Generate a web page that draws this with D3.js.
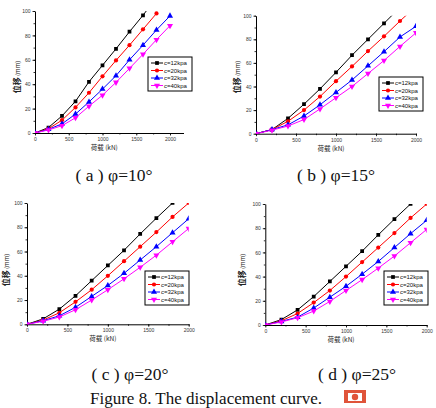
<!DOCTYPE html>
<html lang="en">
<head>
<meta charset="UTF-8">
<title>Displacement curve</title>
<script src="https://d3js.org/d3.v7.min.js"></script>
<style>
  body { margin: 0; background: #fff; }
  svg { display: block; }
  .tick text { font-family: Arial, "Liberation Sans", sans-serif; fill: #333; }
  .cap { font-family: "Liberation Serif", "Times New Roman", serif; fill: #111; }
</style>
</head>
<body>
<svg id="canvas"></svg>
<script>
let width = 436
let height = 408

// load (kN) where the points sit
let loads = [0, 200, 400, 600, 800, 1000, 1200, 1400, 1600, 1800, 2000]
let seriesNames = ["c=12kpa", "c=20kpa", "c=32kpa", "c=40kpa"]
let seriesColors = ["#000000", "#ff0000", "#0000ff", "#ff00ff"]
let xTicks = [0, 500, 1000, 1500, 2000]
let yTicks = [0, 20, 40, 60, 80, 100]
let captions = ["( a ) φ=10°", "( b ) φ=15°", "( c ) φ=20°", "( d ) φ=25°"]
let figTitle = "Figure 8. The displacement curve."

// displacement (mm), one list per c value, per panel
let dispA12 = [0, 4.5, 14, 26, 42, 55.5, 69, 83, 96.5, 111]
let dispA20 = [0, 3.5, 10.5, 21, 33, 46.5, 59.5, 72, 85, 98]
let dispA32 = [0, 3, 7.5, 15.5, 25.5, 36, 47, 60, 72, 84.5, 96]
let dispA40 = [0, 2.5, 6, 12.5, 22, 31, 41.5, 53, 64.5, 76.5, 88]

let dispB12 = [0, 3.5, 13, 25, 38, 52, 66.5, 80, 93.5, 107]
let dispB20 = [0, 3.5, 10.5, 20, 31.5, 44.5, 57, 70, 82.5, 95.5, 108]
let dispB32 = [0, 3.5, 7.5, 15, 24.5, 35, 45.5, 57.5, 69.5, 82, 91]
let dispB40 = [0, 3, 6.5, 12, 21, 30.5, 40, 51, 62, 74, 85.5]

let dispC12 = [0, 4.5, 12.5, 23.5, 36, 48.5, 61, 74.5, 87.5, 100]
let dispC20 = [0, 3.5, 9.5, 18.5, 28.5, 40, 52, 64, 76, 88.5, 100]
let dispC32 = [0, 3, 7, 14, 23, 32, 42, 53, 64, 75.5, 87]
let dispC40 = [0, 2.5, 6, 12, 20, 28.5, 37.5, 47, 57, 68, 79]

let dispD12 = [0, 4.5, 12.5, 23.5, 36, 48.5, 61, 74.5, 87.5, 100]
let dispD20 = [0, 3.5, 9.5, 18.5, 28.5, 40, 52, 64, 76, 88.5, 100]
let dispD32 = [0, 3, 6.5, 14, 23, 32, 42, 52.5, 64, 75.5, 86.5]
let dispD40 = [0, 2.5, 6, 11.5, 19.5, 28.5, 37.5, 47, 57, 68, 79]

let panels = [
  { series: [dispA12, dispA20, dispA32, dispA40], xMax: 2200, x0: 35, x1: 183.5, yTop: 11, yBot: 133,
    legend: [148, 57], ylab: [20, 77], cap: [114, 181] },
  { series: [dispB12, dispB20, dispB32, dispB40], xMax: 2000, x0: 256, x1: 416, yTop: 15.7, yBot: 133.7,
    legend: [379, 77], ylab: [240, 77], cap: [336, 181] },
  { series: [dispC12, dispC20, dispC32, dispC40], xMax: 2000, x0: 27, x1: 188.7, yTop: 203, yBot: 324.3,
    legend: [145, 271], ylab: [9, 270], cap: [130, 380] },
  { series: [dispD12, dispD20, dispD32, dispD40], xMax: 2000, x0: 265.3, x1: 426.7, yTop: 204, yBot: 325,
    legend: [384, 271], ylab: [245, 270], cap: [357, 380] }
]

let symbols = [
  d3.symbol().type(d3.symbolSquare).size(14),
  d3.symbol().type(d3.symbolCircle).size(14),
  d3.symbol().type(d3.symbolTriangle).size(16),
  d3.symbol().type(d3.symbolTriangle).size(16)
]

let svg = d3.select("#canvas").attr("width", width).attr("height", height)

let drawPanel = (p, i) => {
  let g = svg.append("g")
  let xScale = d3.scaleLinear().domain([0, p.xMax]).range([p.x0, p.x1])
  let yScale = d3.scaleLinear().domain([0, 100]).range([p.yBot, p.yTop])

  // minor ticks first
  g.append("g")
   .attr("transform", "translate(0," + p.yBot + ")")
   .call(d3.axisBottom(xScale).tickValues(d3.range(0, p.xMax + 1, 250)).tickSize(1.5).tickFormat(""))
   .call(a => a.select(".domain").remove())
  g.append("g")
   .attr("transform", "translate(" + p.x0 + ",0)")
   .call(d3.axisLeft(yScale).tickValues(d3.range(0, 101, 10)).tickSize(1.5).tickFormat(""))
   .call(a => a.select(".domain").remove())

  let xAxis = g.append("g")
   .attr("transform", "translate(0," + p.yBot + ")")
   .call(d3.axisBottom(xScale).tickValues(xTicks).tickFormat(d3.format("d"))
           .tickSize(2.5).tickSizeOuter(0).tickPadding(2))
  let yAxis = g.append("g")
   .attr("transform", "translate(" + p.x0 + ",0)")
   .call(d3.axisLeft(yScale).tickValues(yTicks).tickFormat(d3.format("d"))
           .tickSize(2.5).tickSizeOuter(0).tickPadding(2))
  ;[xAxis, yAxis].forEach(a => {
    a.selectAll(".domain").attr("stroke", "#000").attr("stroke-width", 1)
    a.selectAll(".tick text").style("font-size", "5px")
  })
  g.selectAll(".tick line").attr("stroke", "#000").attr("stroke-width", 0.8)

  g.append("text")
   .attr("x", (p.x0 + p.x1) / 2 - 5).attr("y", p.yBot + 17)
   .attr("text-anchor", "middle")
   .style("font-family", "'Noto Sans CJK SC', sans-serif").style("font-size", "6.5px").attr("fill", "#222")
   .text("荷载 (kN)")

  let yl = g.append("text")
   .attr("transform", "translate(" + p.ylab[0] + "," + p.ylab[1] + ") rotate(-90)")
   .attr("text-anchor", "middle")
   .style("font-family", "'Noto Sans CJK SC', sans-serif").attr("fill", "#222")
  yl.append("tspan").style("font-size", "8px").style("font-weight", "bold").text("位移")
  yl.append("tspan").style("font-size", "6px").text(" (mm)")

  let clipId = "clip" + i
  svg.append("clipPath").attr("id", clipId)
     .append("rect").attr("x", p.x0).attr("y", p.yTop)
     .attr("width", p.x1 - p.x0).attr("height", p.yBot - p.yTop)

  let line = d3.line().x((d, j) => xScale(loads[j])).y(d => yScale(d))

  p.series.forEach((vals, s) => {
    let sg = g.append("g").attr("clip-path", "url(#" + clipId + ")")
    sg.append("path").datum(vals)
      .attr("d", line).attr("fill", "none")
      .attr("stroke", seriesColors[s]).attr("stroke-width", 1)
    sg.selectAll("path.m").data(vals.filter(v => v <= 100.5))
      .enter().append("path").attr("class", "m")
      .attr("d", symbols[s])
      .attr("fill", seriesColors[s])
      .attr("transform", (d, j) => "translate(" + xScale(loads[j]) + "," + yScale(d) + ")" + (s == 3 ? " rotate(180)" : ""))
  })

  // legend
  let lg = g.append("g").attr("transform", "translate(" + p.legend[0] + "," + p.legend[1] + ")")
  lg.append("rect").attr("width", 44).attr("height", 34)
    .attr("fill", "#fff").attr("stroke", "#000").attr("stroke-width", 1)
  seriesNames.forEach((name, s) => {
    let ry = 6 + s * 7.5
    lg.append("line").attr("x1", 3).attr("x2", 15).attr("y1", ry).attr("y2", ry)
      .attr("stroke", seriesColors[s]).attr("stroke-width", 1)
    lg.append("path").attr("d", symbols[s]).attr("fill", seriesColors[s])
      .attr("transform", "translate(9," + ry + ")" + (s == 3 ? " rotate(180)" : ""))
    lg.append("text").attr("x", 16).attr("y", ry + 2)
      .style("font-family", "Arial, 'Liberation Sans', sans-serif").style("font-size", "6px").attr("fill", "#111")
      .text(name)
  })

  svg.append("text").attr("class", "cap")
     .attr("x", p.cap[0]).attr("y", p.cap[1])
     .attr("text-anchor", "middle").style("font-size", "17.5px")
     .text(captions[i])
}

panels.forEach(drawPanel)

svg.append("text").attr("class", "cap")
   .attr("x", 206).attr("y", 404)
   .attr("text-anchor", "middle").style("font-size", "17px")
   .text(figTitle)

// little red badge after the title
let badge = svg.append("g").attr("transform", "translate(344,390)")
badge.append("rect").attr("width", 22).attr("height", 13).attr("fill", "#e0543a")
badge.append("rect").attr("x", 4).attr("y", 3).attr("width", 14).attr("height", 8).attr("fill", "#fff")
badge.append("circle").attr("cx", 11).attr("cy", 7).attr("r", 3.2).attr("fill", "#e0543a")
</script>
</body>
</html>
